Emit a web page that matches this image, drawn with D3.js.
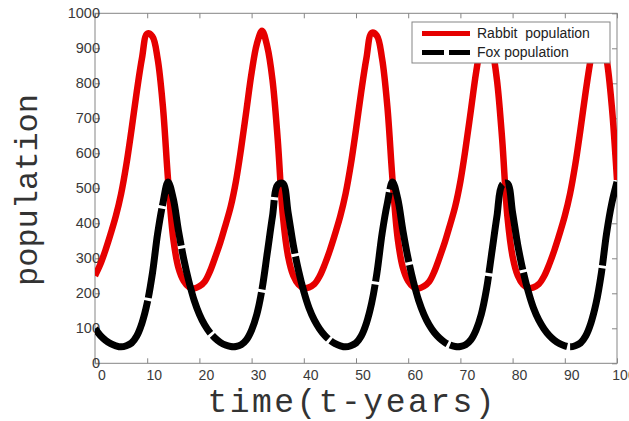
<!DOCTYPE html>
<html>
<head>
<meta charset="utf-8">
<script src="https://cdn.jsdelivr.net/npm/d3@7"></script>
<style>
body { margin: 0; background: #fff; }
</style>
</head>
<body>
<div id="chart"></div>
<script>
// predator / prey chart (one per year)
var years = d3.range(0, 101);

var rabbit = [
	250, 282, 323, 370, 421, 484, 567, 668, 776, 872, 942, 934, 870, 735, 524, 355, 272, 235, 218, 214,
	220, 233, 262, 302, 345, 395, 448, 520, 615, 722, 830, 912, 950, 905, 810, 640, 420, 305, 250, 225,
	215, 217, 226, 248, 282, 323, 370, 421, 484, 567, 668, 776, 872, 944, 936, 870, 735, 524, 355, 272,
	235, 218, 214, 220, 233, 262, 302, 345, 395, 448, 520, 615, 722, 830, 912, 950, 905, 810, 640, 420,
	305, 250, 225, 215, 217, 226, 248, 282, 323, 370, 421, 484, 567, 668, 776, 872, 944, 936, 870, 735,
	524
];

var fox = [
	99, 80, 66, 56, 50, 47, 50, 58, 78, 115, 172, 257, 371, 457, 518, 470, 378, 298, 233, 180,
	140, 110, 88, 72, 60, 52, 48, 48, 53, 67, 95, 140, 212, 315, 420, 510, 514, 430, 337, 264,
	205, 158, 124, 99, 80, 66, 56, 50, 47, 50, 58, 78, 115, 172, 257, 371, 457, 518, 470, 378,
	298, 233, 180, 140, 110, 88, 72, 60, 52, 48, 48, 53, 67, 95, 140, 212, 315, 420, 510, 514,
	430, 337, 264, 205, 158, 124, 99, 80, 66, 56, 50, 47, 50, 58, 78, 115, 172, 257, 371, 457,
	518
];

var xTicks = [0, 10, 20, 30, 40, 50, 60, 70, 80, 90, 100];
var yTicks = [0, 100, 200, 300, 400, 500, 600, 700, 800, 900, 1000];
var legendNames = ["Rabbit  population", "Fox population"];

var width = 629;
var height = 421;
// note: "top" is taken by window.top, so plot edges get their own names
var plotLeft = 95, plotRight = 617, plotTop = 13.3, plotBottom = 363.3;
var axisColor = "#858585";

var x = d3.scaleLinear().domain([0, 100]).range([plotLeft, plotRight]);
var y = d3.scaleLinear().domain([0, 1000]).range([plotBottom, plotTop]);

var svg = d3.select("#chart")
	.append("svg")
	.attr("width", width)
	.attr("height", height);

svg.append("clipPath")
	.attr("id", "plotClip")
	.append("rect")
	.attr("x", plotLeft)
	.attr("y", plotTop)
	.attr("width", plotRight - plotLeft)
	.attr("height", plotBottom - plotTop);

// axes - ticks point inward on all four sides
var tickLen = 5;
function styleAxis(g) {
	g.selectAll(".domain").remove();
	g.selectAll(".tick line").attr("stroke", axisColor);
}

svg.append("g")
	.attr("transform", "translate(0," + plotBottom + ")")
	.call(d3.axisBottom(x).tickValues(xTicks).tickSize(-tickLen).tickFormat(""))
	.call(styleAxis);
svg.append("g")
	.attr("transform", "translate(0," + plotTop + ")")
	.call(d3.axisTop(x).tickValues(xTicks).tickSize(-tickLen).tickFormat(""))
	.call(styleAxis);
svg.append("g")
	.attr("transform", "translate(" + plotLeft + ",0)")
	.call(d3.axisLeft(y).tickValues(yTicks).tickSize(-tickLen).tickFormat(""))
	.call(styleAxis);
svg.append("g")
	.attr("transform", "translate(" + plotRight + ",0)")
	.call(d3.axisRight(y).tickValues(yTicks).tickSize(-tickLen).tickFormat(""))
	.call(styleAxis);

svg.append("rect")
	.attr("x", plotLeft)
	.attr("y", plotTop)
	.attr("width", plotRight - plotLeft)
	.attr("height", plotBottom - plotTop)
	.attr("fill", "none")
	.attr("stroke", axisColor)
	.attr("stroke-width", 1);

// tick labels (sit a little right of their ticks, like the picture)
svg.selectAll(".xlab")
	.data(xTicks)
	.enter()
	.append("text")
	.attr("class", "xlab")
	.attr("x", function(d) { return x(d) + 7; })
	.attr("y", plotBottom + 16.5)
	.attr("text-anchor", "middle")
	.attr("font-family", "Liberation Sans, Arial, sans-serif")
	.attr("font-size", 14)
	.attr("fill", "#3a3a3a")
	.text(function(d) { return d; });

svg.selectAll(".ylab")
	.data(yTicks)
	.enter()
	.append("text")
	.attr("class", "ylab")
	.attr("x", plotLeft + 5)
	.attr("y", function(d) { return y(d) + 5; })
	.attr("text-anchor", "end")
	.attr("font-family", "Liberation Sans, Arial, sans-serif")
	.attr("font-size", 14.5)
	.attr("fill", "#3a3a3a")
	.text(function(d) { return d; });

// axis titles
svg.append("text")
	.attr("x", 351)
	.attr("y", 412)
	.attr("text-anchor", "middle")
	.attr("font-family", "Liberation Mono, monospace")
	.attr("font-size", 33)
	.attr("textLength", 287)
	.attr("lengthAdjust", "spacing")
	.attr("fill", "#333")
	.text("time(t-years)");

svg.append("text")
	.attr("transform", "translate(37,190) rotate(-90)")
	.attr("text-anchor", "middle")
	.attr("font-family", "Liberation Mono, monospace")
	.attr("font-size", 32)
	.attr("fill", "#333")
	.text("population");

// curves
var plot = svg.append("g").attr("clip-path", "url(#plotClip)");

var popLine = d3.line()
	.x(function(d, i) { return x(years[i]); })
	.y(function(d) { return y(d); })
	.curve(d3.curveCatmullRom);

plot.append("path")
	.datum(rabbit)
	.attr("d", popLine)
	.attr("fill", "none")
	.attr("stroke", "#e60000")
	.attr("stroke-width", 6.5)
	.attr("stroke-linejoin", "round");

plot.append("path")
	.datum(fox)
	.attr("d", popLine)
	.attr("fill", "none")
	.attr("stroke", "#000")
	.attr("stroke-width", 7)
	.attr("stroke-dasharray", "90,3")
	.attr("stroke-linejoin", "round");

// legend
var legend = svg.append("g");
legend.append("rect")
	.attr("x", 412)
	.attr("y", 22)
	.attr("width", 198)
	.attr("height", 41)
	.attr("fill", "#fff")
	.attr("stroke", axisColor);

legend.append("line")
	.attr("x1", 422).attr("x2", 470)
	.attr("y1", 33.5).attr("y2", 33.5)
	.attr("stroke", "#e60000")
	.attr("stroke-width", 5);

legend.append("line")
	.attr("x1", 422).attr("x2", 470)
	.attr("y1", 52.5).attr("y2", 52.5)
	.attr("stroke", "#000")
	.attr("stroke-width", 5)
	.attr("stroke-dasharray", "22,5");

legend.selectAll(".legtext")
	.data(legendNames)
	.enter()
	.append("text")
	.attr("class", "legtext")
	.attr("x", 477)
	.attr("y", function(d, i) { return 37.5 + i * 19.5; })
	.attr("font-family", "Liberation Sans, Arial, sans-serif")
	.attr("font-size", 14)
	.attr("fill", "#222")
	.style("white-space", "pre")
	.text(function(d) { return d; });
</script>
</body>
</html>
